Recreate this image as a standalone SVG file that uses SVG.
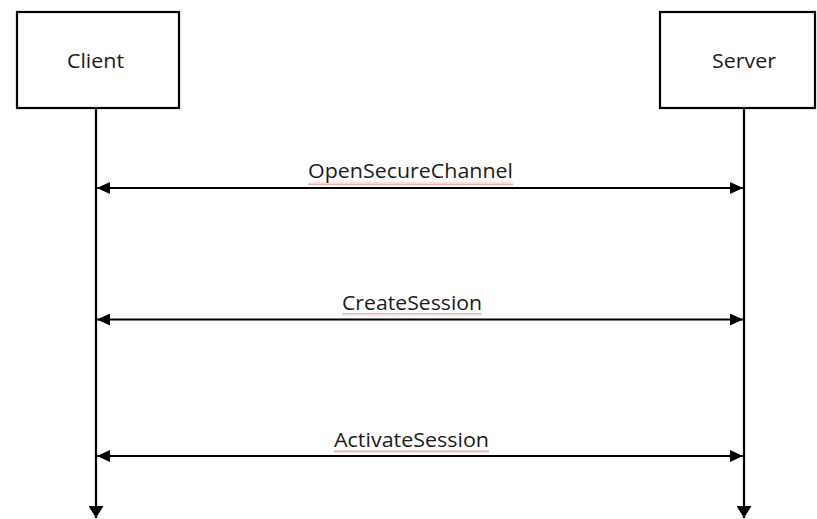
<svg xmlns="http://www.w3.org/2000/svg" width="817" height="519" viewBox="0 0 817 519">
  <style>
    .box { fill: #ffffff; stroke: #000000; stroke-width: 2.2; }
    .life { stroke: #000000; stroke-width: 2.2; fill: none; }
    .msg { stroke: #000000; stroke-width: 2; fill: none; }
    .lbl { font-family: "Open Sans", "Noto Sans", "Liberation Sans", sans-serif; font-size: 20.5px; fill: #1a1a1a; text-anchor: middle; }
    .squig { fill: url(#wave); }
  </style>
  <defs>
    <marker id="head" viewBox="0 0 13 12" refX="13" refY="6" markerWidth="13" markerHeight="12" markerUnits="userSpaceOnUse" orient="auto-start-reverse">
      <path d="M0,0 L13,6 L0,12 Z" fill="#000000"/>
    </marker>
    <marker id="down" viewBox="0 0 13 12" refX="13" refY="6" markerWidth="12" markerHeight="15" markerUnits="userSpaceOnUse" orient="auto" preserveAspectRatio="none">
      <path d="M0,0 L13,6 L0,12 Z" fill="#000000"/>
    </marker>
    <!-- spell-check style wavy underline -->
    <pattern id="wave" width="4" height="3" patternUnits="userSpaceOnUse">
      <polyline points="0,2.5 1,0.5 2,2.5 3,0.5 4,2.5" fill="none" stroke="#e85050" stroke-width="0.6" stroke-opacity="0.8"/>
    </pattern>
  </defs>

  <g id="client">
    <rect class="box" x="17" y="12" width="162" height="96"/>
    <text class="lbl" x="95.5" y="68" textLength="57" lengthAdjust="spacingAndGlyphs">Client</text>
  </g>

  <g id="server">
    <rect class="box" x="660" y="12" width="155" height="96"/>
    <text class="lbl" x="744" y="68" textLength="64" lengthAdjust="spacingAndGlyphs">Server</text>
  </g>

  <g id="connectors">
    <line class="life" x1="96" y1="108" x2="96" y2="518" marker-end="url(#down)"/>
    <line class="life" x1="744" y1="108" x2="744" y2="518" marker-end="url(#down)"/>

    <line class="msg" x1="97" y1="188" x2="743" y2="188" marker-start="url(#head)" marker-end="url(#head)"/>
    <line class="msg" x1="97" y1="319.5" x2="743" y2="319.5" marker-start="url(#head)" marker-end="url(#head)"/>
    <line class="msg" x1="97" y1="456" x2="743" y2="456" marker-start="url(#head)" marker-end="url(#head)"/>
  </g>

  <g id="label-open">
    <text class="lbl" x="410.5" y="178" textLength="205" lengthAdjust="spacingAndGlyphs">OpenSecureChannel</text>
    <rect class="squig" x="308" y="182" width="205" height="3"/>
  </g>

  <g id="label-create">
    <text class="lbl" x="412" y="310" textLength="140" lengthAdjust="spacingAndGlyphs">CreateSession</text>
    <rect class="squig" x="342" y="313" width="140" height="3"/>
  </g>

  <g id="label-activate">
    <text class="lbl" x="411.5" y="447" textLength="155" lengthAdjust="spacingAndGlyphs">ActivateSession</text>
    <rect class="squig" x="334" y="450" width="155" height="3"/>
  </g>
</svg>
